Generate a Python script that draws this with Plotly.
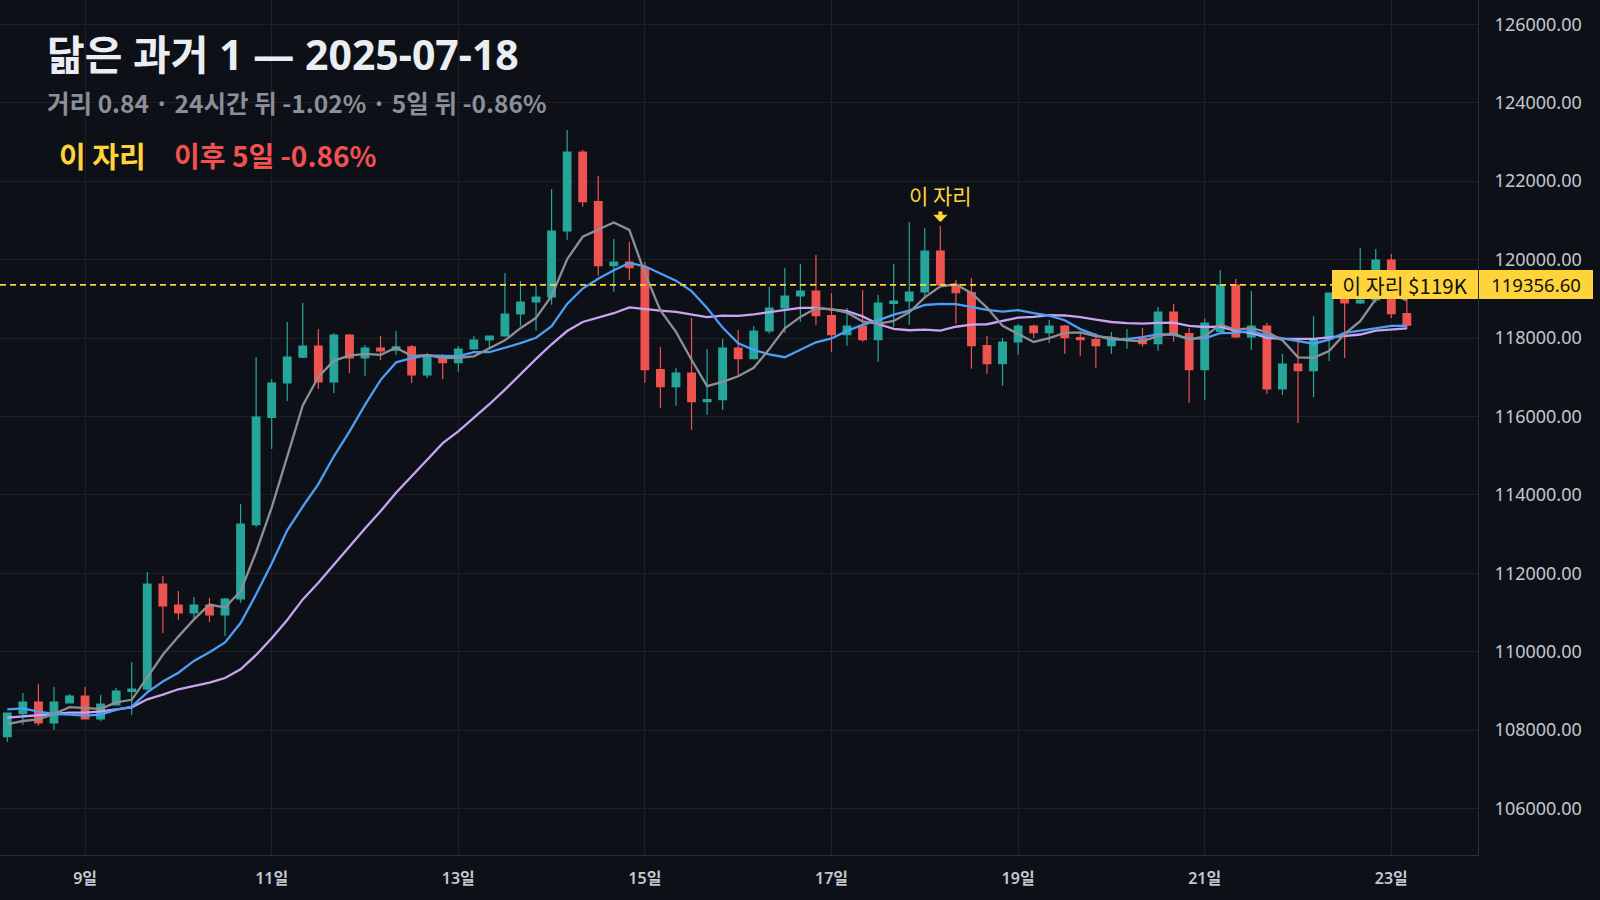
import pandas as pd
import plotly.graph_objects as go

# 4h candles, BTC/USD, 2025-07-08 04:00 .. 2025-07-23 04:00
start = "2025-07-08 04:00"

opens = [107834, 108420, 108719, 108183, 108693, 108872, 108285, 108642, 108990, 109050,
         111728, 111192, 110988, 111192, 110937, 111345, 113240, 115975, 116853, 117510,
         117797, 116879, 118077, 117491, 117746, 117690, 117772, 117057, 117550, 117371,
         117720, 117950, 118052, 118613, 118919, 119046, 120729, 122744, 121476, 119844,
         119939, 119793, 117192, 116759, 117108, 116376, 116427, 117746, 117473, 118179,
         118766, 119072, 119199, 118569, 118085, 118307, 117957, 118880, 118944, 119174,
         120219, 119356, 119156, 117804, 117345, 117899, 118307, 118139, 118307, 118008,
         117957, 117804, 117957, 117990, 117855, 118664, 118110, 117192, 118170, 119352,
         118026, 118307, 116700, 117338, 117167, 117975, 119148, 118893, 118970, 119990,
         118620]
highs = [108440, 108948, 109178, 109101, 108923, 109101, 108898, 109076, 109739, 112034,
         111932, 111549, 111396, 111370, 111370, 113768, 117516, 116955, 118409, 118893,
         118230, 118128, 118100, 117823, 118052, 118179, 117823, 117618, 117590, 117797,
         118052, 118060, 119658, 119454, 119327, 121800, 123305, 122795, 122132, 120525,
         120449, 119939, 117771, 117236, 118511, 117720, 117976, 118205, 118307, 119301,
         119786, 119888, 120117, 119148, 118766, 119224, 119097, 119888, 120959, 120806,
         120857, 119480, 119531, 118052, 118000, 118358, 118340, 118460, 118330, 118128,
         118128, 118154, 118230, 118256, 118791, 118868, 118256, 118500, 119735, 119505,
         119199, 118383, 117593, 117925, 118562, 119160, 119300, 120296, 120270, 120143,
         119199]
lows = [107700, 108132, 108114, 108005, 108680, 108270, 108234, 108620, 108387, 108990,
        110478, 110810, 110861, 110759, 110402, 111250, 113181, 115170, 116394, 117490,
        116700, 116598, 117108, 117032, 117440, 117567, 116853, 116981, 116947, 117141,
        117700, 117746, 118030, 118307, 118187, 118850, 120507, 121349, 119589, 119181,
        119487, 116861, 116223, 116274, 115662, 116045, 116172, 117057, 117450, 118110,
        118136, 118416, 118340, 117651, 117804, 117906, 117396, 118289, 118340, 119028,
        119330, 118358, 117218, 117090, 116784, 117575, 118000, 117873, 117600, 117549,
        117243, 117600, 117728, 117779, 117677, 117906, 116351, 116420, 118150, 118000,
        117695, 116573, 116547, 115833, 116488, 117414, 117491, 118870, 118900, 118511,
        118230]
closes = [108438, 108719, 108183, 108719, 108872, 108285, 108668, 108999, 109050, 111728,
          111167, 110988, 111192, 110937, 111345, 113258, 115986, 116853, 117516, 117797,
          116879, 118077, 117491, 117746, 117669, 117772, 117057, 117567, 117371, 117720,
          117950, 118052, 118613, 118919, 119046, 120729, 122744, 121476, 119844, 119939,
          119793, 117192, 116759, 117108, 116376, 116427, 117746, 117473, 118179, 118766,
          119072, 119199, 118569, 118085, 118307, 117957, 118893, 118944, 119174, 120219,
          119356.60, 119156, 117804, 117345, 117899, 118307, 118139, 118307, 118008, 117957,
          117804, 117957, 117990, 117855, 118664, 118110, 117192, 118383, 119352, 118026,
          118307, 116700, 117338, 117167, 117975, 119148, 118893, 118970, 119990, 118620,
          118330]

# moving average lines as shown on the chart (gray, blue, purple)
ma_gray = [108157, 108234, 108278, 108413, 108586, 108556, 108545, 108709, 108775, 109346,
           109922, 110386, 110825, 111202, 111126, 111544, 112544, 113676, 114992, 116282,
           117006, 117424, 117552, 117598, 117572, 117751, 117547, 117562, 117487, 117497,
           117533, 117732, 117941, 118251, 118516, 119072, 120010, 120583, 120768, 120946,
           120759, 119649, 118705, 118158, 117446, 116772, 116883, 117026, 117240, 117718,
           118247, 118538, 118757, 118738, 118646, 118423, 118362, 118437, 118655, 119037,
           119317, 119370, 119142, 118776, 118312, 118102, 117899, 117999, 118132, 118144,
           118043, 118007, 117943, 117913, 118054, 118115, 117962, 118041, 118340, 118213,
           118252, 118154, 117945, 117508, 117497, 117666, 118104, 118431, 118995, 119124,
           118961]
ma_blue = [108533, 108558, 108471, 108413, 108395, 108370, 108395, 108515, 108599, 108966,
           109239, 109466, 109767, 109989, 110236, 110733, 111465, 112250, 113097, 113704,
           114275, 114984, 115614, 116295, 116927, 117379, 117486, 117557, 117543, 117535,
           117642, 117640, 117752, 117869, 118007, 118302, 118871, 119262, 119509, 119731,
           119916, 119830, 119644, 119463, 119196, 118766, 118266, 117866, 117699, 117582,
           117510, 117711, 117892, 117989, 118182, 118335, 118450, 118597, 118697, 118842,
           118870, 118866, 118790, 118716, 118675, 118710, 118634, 118571, 118454, 118228,
           118073, 117953, 117971, 118022, 118099, 118079, 117984, 117992, 118126, 118133,
           118184, 118058, 117993, 117924, 117855, 117959, 118129, 118188, 118251, 118311,
           118313]
ma_purple = [108318, 108344, 108370, 108413, 108446, 108446, 108481, 108533, 108584, 108788,
             108905, 109043, 109134, 109211, 109331, 109553, 109918, 110343, 110810, 111335,
             111757, 112225, 112690, 113142, 113582, 114056, 114475, 114904, 115320, 115619,
             115959, 116312, 116683, 117082, 117467, 117841, 118178, 118410, 118526, 118633,
             118779, 118735, 118698, 118666, 118601, 118534, 118569, 118564, 118604, 118657,
             118713, 118770, 118768, 118726, 118689, 118551, 118358, 118231, 118198, 118212,
             118190, 118288, 118341, 118352, 118429, 118523, 118542, 118584, 118575, 118535,
             118472, 118409, 118380, 118369, 118387, 118394, 118309, 118281, 118290, 118181,
             118128, 118005, 117982, 117973, 117977, 118019, 118057, 118090, 118189, 118222,
             118248]

spot_idx = 60  # "이 자리" candle, 2025-07-18
y_ticks = list(range(106000, 126001, 2000))

times = pd.date_range(start, periods=len(closes), freq="4h")
day_ticks = pd.date_range("2025-07-09", "2025-07-23", freq="2D")
day_labels = [f"{d.day}일" for d in day_ticks]

BG = "#0d1017"
GRID = "#1d2029"
YELLOW = "#ffd43b"
UP = "#26a69a"
DOWN = "#ef5350"
KR = "Noto Sans CJK KR"

fig = go.Figure()
fig.add_trace(go.Candlestick(
    x=times, open=opens, high=highs, low=lows, close=closes,
    increasing=dict(line=dict(color=UP, width=1.2), fillcolor=UP),
    decreasing=dict(line=dict(color=DOWN, width=1.2), fillcolor=DOWN),
    whiskerwidth=0, showlegend=False, hoverinfo="skip",
))
for vals, col in [(ma_purple, "#c9a3f2"), (ma_blue, "#4c9ff5"), (ma_gray, "#8c8f95")]:
    fig.add_trace(go.Scatter(x=times, y=vals, mode="lines",
                             line=dict(color=col, width=2.3),
                             showlegend=False, hoverinfo="skip"))

spot_price = closes[spot_idx]
fig.add_shape(type="line", xref="paper", x0=0, x1=1, yref="y",
              y0=spot_price, y1=spot_price, layer="above",
              line=dict(color=YELLOW, width=1.6, dash="6px,4px"))

ann = [
    dict(text="닮은 과거 1 — 2025-07-18", x=0.0305, y=0.9374,
         font=dict(family="Noto Sans, " + KR, size=41, color="#eaedf2", weight="bold")),
    dict(text="거리 0.84 · 24시간 뒤 -1.02% · 5일 뒤 -0.86%", x=0.0305, y=0.8807,
         font=dict(family=KR, size=24.5, color="#8a8f99", weight="bold")),
    dict(text="이 자리", x=0.0385, y=0.8187,
         font=dict(family=KR, size=29, color=YELLOW, weight="bold")),
    dict(text="이후 5일 -0.86%", x=0.1165, y=0.8187,
         font=dict(family=KR, size=28, color="#f0524f", weight="bold")),
]
for a in ann:
    fig.add_annotation(xref="paper", yref="paper", xanchor="left", yanchor="middle",
                       showarrow=False, **a)

# marker above the matched candle
fig.add_annotation(x=times[spot_idx], y=highs[spot_idx], text="이 자리",
                   showarrow=False, yshift=31, yanchor="middle",
                   font=dict(family=KR, size=21, color=YELLOW))
fig.add_annotation(x=times[spot_idx], y=highs[spot_idx], text="", yshift=4,
                   showarrow=True, ax=0, ay=-12, arrowhead=1, arrowsize=0.6,
                   arrowwidth=4, arrowcolor=YELLOW)

# price tags on the right
fig.add_annotation(xref="paper", x=1, xanchor="right", y=spot_price, yanchor="middle",
                   text="이 자리 $119K", showarrow=False, bgcolor=YELLOW,
                   width=146, height=29, borderpad=0, borderwidth=0,
                   font=dict(family=KR, size=20.5, color="#111111"))
fig.add_annotation(xref="paper", x=1, xanchor="left", xshift=1, y=spot_price,
                   yanchor="middle", text=f"{spot_price:.2f}", showarrow=False,
                   bgcolor=YELLOW, width=114, height=29, borderpad=0, borderwidth=0,
                   font=dict(family="Noto Sans", size=18.5, color="#111111"))

fig.update_layout(
    width=1600, height=900,
    margin=dict(l=0, r=122, t=0, b=45),
    paper_bgcolor=BG, plot_bgcolor=BG,
    hovermode=False,
    xaxis=dict(
        type="date", range=["2025-07-08 02:07", "2025-07-23 22:18"],
        rangeslider=dict(visible=False),
        tickvals=day_ticks, ticktext=day_labels,
        showgrid=True, gridcolor=GRID, gridwidth=1,
        showline=True, linecolor="#2b2f39", linewidth=1,
        ticks="", ticklabelstandoff=9,
        tickfont=dict(family="Noto Sans, Noto Sans CJK KR", size=16,
                      color="#c3c7cf", weight=600),
        zeroline=False,
    ),
    yaxis=dict(
        side="right", range=[104817, 126620],
        tickvals=y_ticks, tickformat=".2f",
        showgrid=True, gridcolor=GRID, gridwidth=1,
        showline=True, linecolor="#2b2f39", linewidth=1,
        ticks="", ticklabelstandoff=12,
        tickfont=dict(family="Noto Sans", size=18, color="#c3c7cf"),
        zeroline=False,
    ),
)

fig.write_html("out.html", config={"displayModeBar": False},
               post_script="document.body.style.margin='0';"
                           "document.body.style.background='#0d1017';")
